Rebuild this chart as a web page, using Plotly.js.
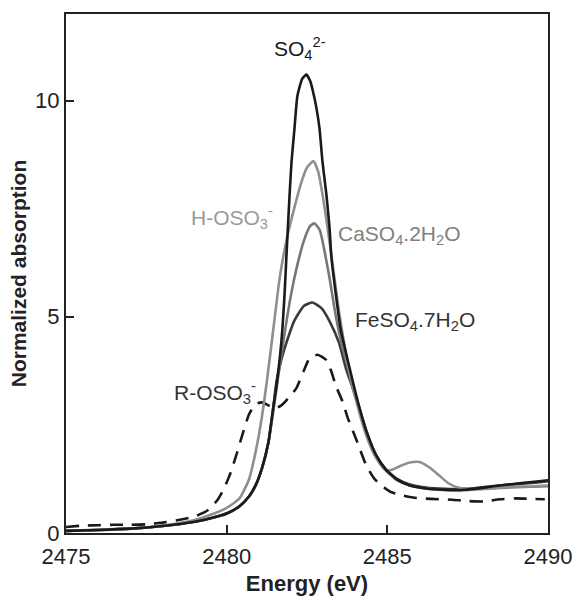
<!DOCTYPE html>
<html>
<head>
<meta charset="utf-8">
<script src="https://cdn.plot.ly/plotly-3.0.1.min.js"></script>
<style>html,body{margin:0;padding:0;background:#fff;}#chart{width:575px;height:602px;}</style>
</head>
<body>
<div id="chart"></div>
<script>
// SO4 2- (black)
const eSO4 = [2475,2476,2477,2478,2479,2479.5,2480,2480.4,2480.7,2480.9,2481.1,2481.3,2481.45,2481.55,2481.7,2481.8,2481.86,2481.96,2482.02,2482.11,2482.2,2482.35,2482.48,2482.6,2482.72,2482.8,2482.89,2482.98,2483.1,2483.2,2483.26,2483.4,2483.55,2483.82,2484.07,2484.35,2484.65,2484.95,2485.3,2485.7,2486.2,2486.8,2487.4,2488,2488.5,2489,2489.5,2490];
const aSO4 = [0.05,0.07,0.1,0.16,0.26,0.34,0.45,0.62,0.85,1.1,1.5,2.1,2.9,3.4,4.4,5.5,6.4,7.85,8.6,9.35,10.1,10.5,10.6,10.45,10.1,9.8,9.35,8.6,7.85,7.07,6.37,5.5,4.7,3.83,3.07,2.35,1.8,1.47,1.24,1.1,1.03,1.0,1.0,1.05,1.1,1.14,1.18,1.22];

// H-OSO3- (light grey)
const eHOSO3 = [2475,2477,2478,2479,2479.5,2480,2480.4,2480.7,2480.93,2481.1,2481.25,2481.45,2481.65,2481.9,2482.1,2482.3,2482.5,2482.7,2482.85,2483.0,2483.15,2483.3,2483.5,2483.7,2483.85,2484.05,2484.3,2484.6,2484.9,2485.1,2485.4,2485.7,2486.0,2486.3,2486.6,2486.9,2487.2,2487.6,2488,2488.5,2489,2489.5,2490];
const aHOSO3 = [0.05,0.1,0.17,0.3,0.42,0.58,0.8,1.25,1.98,2.7,3.5,4.7,5.9,6.9,7.5,8.05,8.45,8.6,8.35,7.75,7.0,6.2,5.1,4.2,3.6,3.0,2.35,1.8,1.48,1.45,1.55,1.63,1.64,1.52,1.34,1.15,1.05,1.02,1.03,1.05,1.07,1.08,1.1];

// CaSO4.2H2O (grey)
const eCaSO4 = [2475,2476,2477,2478,2479,2479.5,2480,2480.4,2480.7,2480.9,2481.1,2481.3,2481.45,2481.6,2481.8,2482.0,2482.2,2482.4,2482.6,2482.73,2482.9,2483.05,2483.2,2483.4,2483.6,2483.82,2484.07,2484.35,2484.65,2484.95,2485.3,2485.7,2486.2,2486.8,2487.4,2488,2488.5,2489,2489.5,2490];
const aCaSO4 = [0.05,0.07,0.1,0.16,0.26,0.34,0.45,0.62,0.85,1.1,1.5,2.1,2.8,3.6,4.6,5.5,6.2,6.75,7.1,7.16,7.0,6.5,5.9,5.0,4.3,3.7,3.05,2.35,1.78,1.45,1.22,1.1,1.03,0.99,0.99,1.02,1.04,1.06,1.07,1.08];

// FeSO4.7H2O (dark grey)
const eFeSO4 = [2475,2476,2477,2478,2479,2479.5,2480,2480.4,2480.7,2480.9,2481.1,2481.3,2481.45,2481.55,2481.7,2481.86,2482.1,2482.4,2482.67,2482.95,2483.2,2483.5,2483.73,2483.9,2484.07,2484.35,2484.65,2484.95,2485.3,2485.7,2486.2,2486.8,2487.4,2488,2488.5,2489,2489.5,2490];
const aFeSO4 = [0.05,0.07,0.1,0.16,0.26,0.34,0.45,0.62,0.85,1.1,1.5,2.1,2.9,3.5,4.0,4.4,4.9,5.25,5.33,5.2,4.9,4.39,3.76,3.4,3.0,2.35,1.8,1.48,1.25,1.12,1.05,1.02,1.02,1.06,1.1,1.13,1.16,1.2];

// R-OSO3- (dashed)
const eROSO3 = [2475,2475.5,2476,2476.5,2477,2477.5,2478,2478.5,2479,2479.4,2479.7,2479.9,2480.1,2480.3,2480.5,2480.7,2480.9,2481.1,2481.3,2481.5,2481.7,2481.9,2482.17,2482.4,2482.58,2482.83,2483.1,2483.25,2483.4,2483.6,2483.76,2484.04,2484.35,2484.6,2484.85,2485.1,2485.4,2485.8,2486.1,2486.6,2487,2487.5,2488,2488.5,2489,2489.5,2489.9];
const aROSO3 = [0.14,0.17,0.18,0.19,0.19,0.2,0.24,0.3,0.38,0.52,0.75,1.0,1.35,1.8,2.3,2.75,2.98,3.02,2.95,2.88,2.95,3.1,3.35,3.75,4.04,4.12,4.0,3.75,3.4,3.05,2.68,2.15,1.55,1.25,1.08,0.95,0.88,0.82,0.8,0.78,0.77,0.74,0.73,0.78,0.8,0.79,0.78];

const xTicks = [2475,2480,2485,2490];
const yTicks = [0,5,10];

const traces = [
  {x:eROSO3, y:aROSO3, name:'R-OSO3-', line:{color:'#1a1a1a', width:2.6, dash:'13px,9px'}},
  {x:eFeSO4, y:aFeSO4, name:'FeSO4.7H2O', line:{color:'#3a3a3a', width:2.6}},
  {x:eCaSO4, y:aCaSO4, name:'CaSO4.2H2O', line:{color:'#777777', width:2.6}},
  {x:eHOSO3, y:aHOSO3, name:'H-OSO3-', line:{color:'#8f8f8f', width:2.6}},
  {x:eSO4, y:aSO4, name:'SO4 2-', line:{color:'#1a1a1a', width:2.6}}
].map(t => Object.assign({type:'scatter', mode:'lines'}, t, {line:Object.assign({shape:'spline', smoothing:0.5}, t.line)}));

const F = 'Liberation Sans, Arial, sans-serif';
const layout = {
  width:575, height:602,
  margin:{l:66, r:27, t:14, b:69},
  paper_bgcolor:'#fff', plot_bgcolor:'#fff',
  showlegend:false,
  font:{family:F, color:'#222', size:21},
  xaxis:{range:[2475,2490], tickvals:xTicks, ticktext:xTicks.map(String), ticks:'inside', ticklen:8, tickwidth:2, tickcolor:'#222',
         showline:true, linewidth:2, linecolor:'#222', mirror:true, showgrid:false, zeroline:false,
         ticklabelstandoff:3,
         tickfont:{size:22, color:'#222', family:F},
         title:{text:'<b>Energy (eV)</b>', font:{size:22, color:'#222', family:F}, standoff:7}},
  yaxis:{range:[0,12], tickvals:yTicks, ticktext:yTicks.map(String), ticks:'inside', ticklen:8, tickwidth:2, tickcolor:'#222',
         showline:true, linewidth:2, linecolor:'#222', mirror:true, showgrid:false, zeroline:false,
         tickfont:{size:22, color:'#222', family:F},
         title:{text:'<b>Normalized absorption</b>', font:{size:21, color:'#222', family:F}, standoff:3}},
  annotations:[
    {x:2482.27, y:11.2, xref:'x', yref:'y', text:'SO<sub>4</sub><sup>2-</sup>', showarrow:false, font:{size:21, color:'#1a1a1a', family:F}, xanchor:'center', yanchor:'middle'},
    {x:2481.5, y:7.3, xref:'x', yref:'y', text:'H-OSO<sub>3</sub><sup>-</sup>', showarrow:false, font:{size:21, color:'#9a9a9a', family:F}, xanchor:'right', yanchor:'middle'},
    {x:2483.39, y:6.9, xref:'x', yref:'y', text:'CaSO<sub>4</sub>.2H<sub>2</sub>O', showarrow:false, font:{size:21, color:'#808080', family:F}, xanchor:'left', yanchor:'middle'},
    {x:2483.94, y:4.9, xref:'x', yref:'y', text:'FeSO<sub>4</sub>.7H<sub>2</sub>O', showarrow:false, font:{size:21, color:'#333', family:F}, xanchor:'left', yanchor:'middle'},
    {x:2478.29, y:3.25, xref:'x', yref:'y', text:'R-OSO<sub>3</sub><sup>-</sup>', showarrow:false, font:{size:21, color:'#333', family:F}, xanchor:'left', yanchor:'middle'}
  ]
};
Plotly.newPlot('chart', traces, layout, {displayModeBar:false, staticPlot:true});
</script>
</body>
</html>
